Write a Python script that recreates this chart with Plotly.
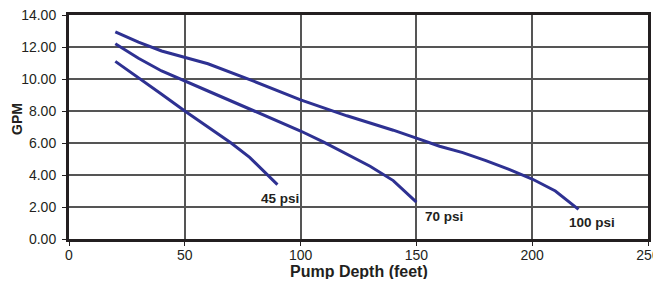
import plotly.graph_objects as go

depth_45 = [20, 30, 40, 50, 60, 70, 78, 90]
gpm_45 = [11.1, 10.1, 9.05, 8.0, 7.0, 6.0, 5.1, 3.4]

depth_70 = [20, 30, 40, 50, 60, 80, 100, 110, 120, 130, 140, 150]
gpm_70 = [12.2, 11.3, 10.5, 9.85, 9.25, 8.0, 6.75, 6.05, 5.3, 4.55, 3.65, 2.3]

depth_100 = [20, 30, 40, 50, 60, 80, 100, 120, 140, 150, 160, 170, 180, 190, 200, 210, 220]
gpm_100 = [12.95, 12.3, 11.75, 11.35, 10.95, 9.85, 8.7, 7.7, 6.8, 6.3, 5.8, 5.4, 4.9, 4.35, 3.75, 3.0, 1.85]

series_names = ["45 psi", "70 psi", "100 psi"]
label_x = [91, 162, 226]
label_y = [2.55, 1.4, 1.05]

x_ticks = [0, 50, 100, 150, 200, 250]
y_ticks = [0, 2, 4, 6, 8, 10, 12, 14]

line_color = "#2e3192"
text_color = "#231f20"
font_family = "Liberation Sans, Arial"

fig = go.Figure()
for xs, ys, name in zip([depth_45, depth_70, depth_100], [gpm_45, gpm_70, gpm_100], series_names):
    fig.add_trace(go.Scatter(x=xs, y=ys, mode="lines", name=name,
                             line=dict(color=line_color, width=3), showlegend=False))

for name, lx, ly in zip(series_names, label_x, label_y):
    fig.add_annotation(x=lx, y=ly, text="<b>" + name + "</b>", showarrow=False,
                       font=dict(family=font_family, size=13.5, color=text_color))

# axis titles
fig.add_annotation(x=0.5, y=0, xref="paper", yref="paper", yshift=-32,
                   xanchor="center", yanchor="middle", showarrow=False,
                   text="<b>Pump Depth (feet)</b>",
                   font=dict(family=font_family, size=16, color=text_color))
fig.add_annotation(x=0, y=0.5, xref="paper", yref="paper", xshift=-52, yshift=8,
                   xanchor="center", yanchor="middle", showarrow=False, textangle=-90,
                   text="<b>GPM</b>",
                   font=dict(family=font_family, size=14, color=text_color))

fig.update_layout(
    width=653, height=271,
    margin=dict(l=61, r=13, t=7, b=40),
    paper_bgcolor="white", plot_bgcolor="white",
    font=dict(family=font_family, color=text_color),
    xaxis=dict(range=[0, 250], tickvals=x_ticks, ticktext=[str(v) for v in x_ticks],
               showgrid=True, gridcolor="#555555", gridwidth=1.5,
               showline=True, linecolor=text_color, linewidth=3, mirror=True,
               ticks="outside", ticklen=4, tickcolor=text_color,
               ticklabeloverflow="allow", ticklabelstandoff=-3,
               tickfont=dict(size=14), zeroline=False, automargin=False),
    yaxis=dict(range=[0, 14], tickvals=y_ticks, ticktext=["%.2f" % v for v in y_ticks],
               showgrid=True, gridcolor="#555555", gridwidth=1.5,
               showline=True, linecolor=text_color, linewidth=3, mirror=True,
               ticks="outside", ticklen=4, tickcolor=text_color,
               ticklabeloverflow="allow", ticklabelstandoff=3,
               tickfont=dict(size=14), zeroline=False, automargin=False),
)

fig.write_html("out.html")
